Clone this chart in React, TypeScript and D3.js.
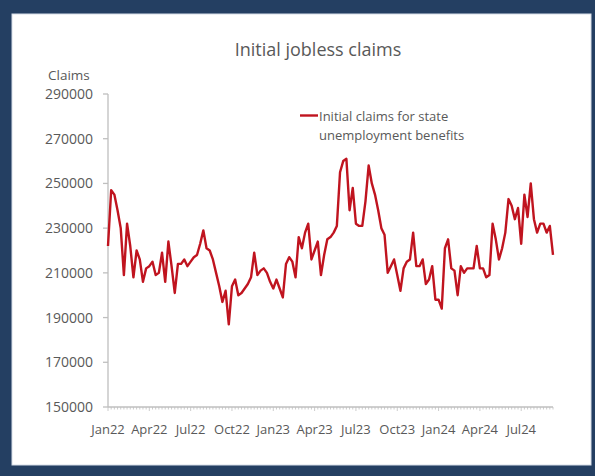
import React from 'react';
import * as d3 from 'd3';

// weekly initial claims, Jan 2022 - Sep 2024
const claims: number[] = [
  222000, 247000, 245000, 238000, 230000, 209000, 232000, 222000, 208000, 220000,
  216000, 206000, 212000, 213000, 215000, 209000, 210000, 219000, 206000, 224000,
  213000, 201000, 214000, 214000, 216000, 213000, 215000, 217000, 218000, 223000,
  229000, 221000, 220000, 216000, 210000, 204000, 197000, 202000, 187000, 204000,
  207000, 200000, 201000, 203000, 205000, 208000, 219000, 209000, 211000, 212000,
  210000, 206000, 203000, 207000, 203000, 199000, 214000, 217000, 215000, 208000,
  226000, 221000, 228000, 232000, 216000, 220000, 224000, 209000, 218000, 225000,
  226000, 228000, 231000, 255000, 260000, 261000, 238000, 248000, 232000, 231000,
  231000, 242000, 258000, 250000, 245000, 238000, 230000, 227000, 210000, 213000,
  216000, 209000, 202000, 212000, 215000, 216000, 228000, 213000, 213000, 216000,
  205000, 207000, 213000, 198000, 198000, 194000, 221000, 225000, 212000, 211000,
  200000, 213000, 210000, 212000, 212000, 212000, 222000, 212000, 212000, 208000,
  209000, 232000, 225000, 216000, 221000, 228000, 243000, 240000, 234000, 239000,
  223000, 245000, 235000, 250000, 234000, 228000, 232000, 232000, 228000, 231000,
  218000,
];

const xLabels = ['Jan22', 'Apr22', 'Jul22', 'Oct22', 'Jan23', 'Apr23', 'Jul23', 'Oct23', 'Jan24', 'Apr24', 'Jul24'];
const labelEvery = 13;
const yTicks = [150000, 170000, 190000, 210000, 230000, 250000, 270000, 290000];

const W = 595;
const H = 476;
const font = "'Open Sans', 'Noto Sans', sans-serif";
const textColor = '#595959';

const App: React.FC = () => {
  const left = 108;
  const right = 553;
  const top = 94;
  const bottom = 407;

  const x = d3.scaleLinear().domain([0, claims.length - 1]).range([left, right]);
  const y = d3.scaleLinear().domain([150000, 290000]).range([bottom, top]);

  const line = d3
    .line<number>()
    .x((d, i) => x(i))
    .y((d) => y(d));

  return (
    <svg width={W} height={H} style={{ position: 'absolute', left: 0, top: 0 }} fontFamily={font}>
      {/* frame */}
      <rect x={0} y={0} width={W} height={H} fill="#243f62" />
      <rect x={12} y={14} width={579} height={451} fill="#fff" stroke="#d6dee8" strokeWidth={1} />

      <text x={318} y={56} textAnchor="middle" fontSize={18} fill={textColor}>
        Initial jobless claims
      </text>
      <text x={48} y={80} fontSize={13.5} fill={textColor}>
        Claims
      </text>

      {/* y axis */}
      <line x1={left} x2={left} y1={top} y2={bottom} stroke="#bfbfbf" strokeWidth={1.3} />
      {yTicks.map((t) => (
        <g key={t}>
          <line x1={left - 5} x2={left} y1={y(t)} y2={y(t)} stroke="#bfbfbf" strokeWidth={1.3} />
          <text x={93} y={y(t)} dy="0.36em" textAnchor="end" fontSize={14} fill={textColor}>
            {t}
          </text>
        </g>
      ))}

      {/* x axis */}
      <line x1={left} x2={right} y1={bottom} y2={bottom} stroke="#bfbfbf" strokeWidth={1.3} />
      {claims.map((d, i) => (
        <line
          key={i}
          x1={x(i)}
          x2={x(i)}
          y1={bottom}
          y2={bottom + (i % labelEvery === 0 ? 4 : 2.5)}
          stroke="#bfbfbf"
          strokeWidth={0.8}
        />
      ))}
      {xLabels.map((l, k) => (
        <text key={l} x={x(k * labelEvery)} y={434} textAnchor="middle" fontSize={13} fill={textColor}>
          {l}
        </text>
      ))}

      <path d={line(claims) || ''} fill="none" stroke="#c0141f" strokeWidth={2.4} strokeLinejoin="round" />

      {/* legend */}
      <line x1={300} x2={318} y1={115.5} y2={115.5} stroke="#c0141f" strokeWidth={2.4} />
      <text x={319} y={121} fontSize={13} fill={textColor}>
        Initial claims for state
      </text>
      <text x={319} y={140} fontSize={13} fill={textColor}>
        unemployment benefits
      </text>
    </svg>
  );
};

export default App;
